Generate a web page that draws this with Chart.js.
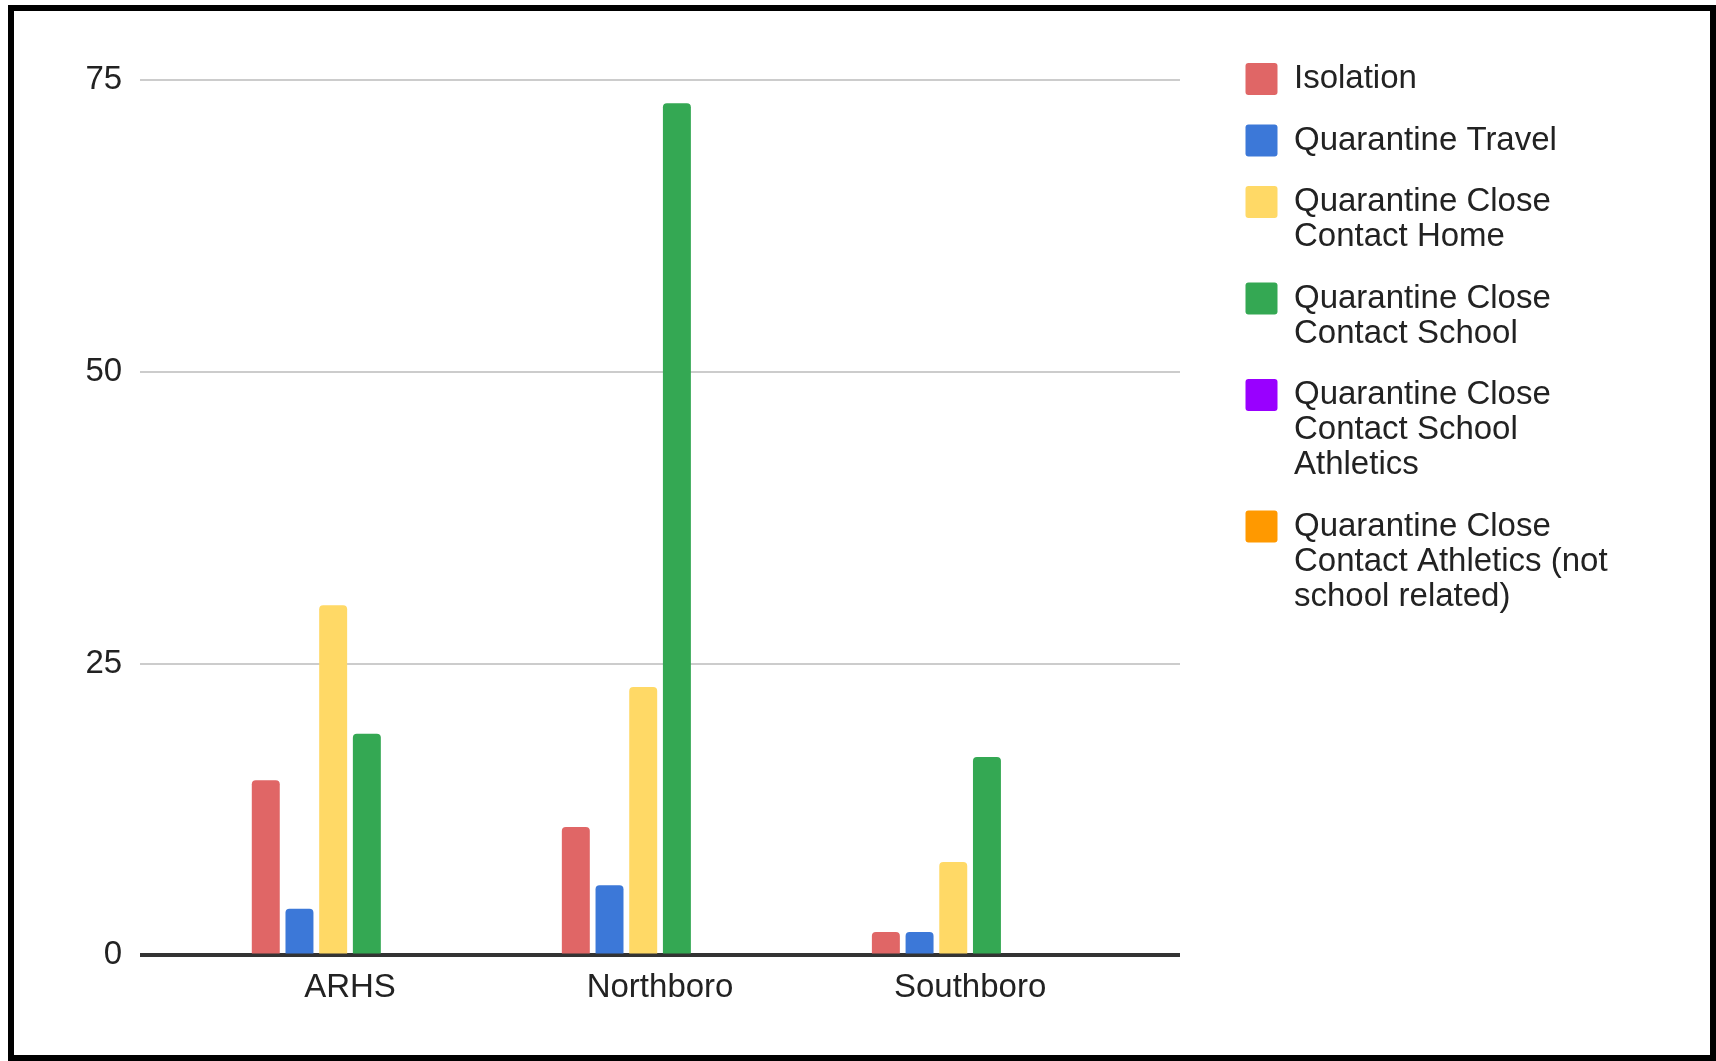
<!DOCTYPE html>
<html>
<head>
<meta charset="utf-8">
<script src="https://cdn.jsdelivr.net/npm/chart.js@4.4.1/dist/chart.umd.min.js"></script>
<style>
  body { margin: 0; background: #fff; }
  #wrap { position: relative; width: 1716px; height: 1061px; }
  #myChart { position: absolute; left: 0; top: 0; }
  #frame {
    position: absolute; left: 8px; top: 5px; width: 1708px; height: 1056px;
    box-sizing: border-box; border: 6px solid #000; pointer-events: none;
  }
</style>
</head>
<body>
<div id="wrap">
  <canvas id="myChart" width="1716" height="1061"></canvas>
  <div id="frame"></div>
</div>
<script>
var schools = ['ARHS', 'Northboro', 'Southboro'];
var isolation = [15, 11, 2];
var quarantineTravel = [4, 6, 2];
var closeContactHome = [30, 23, 8];
var closeContactSchool = [19, 73, 17];
var closeContactSchoolAthletics = [0, 0, 0];
var closeContactAthletics = [0, 0, 0];
var yTicks = [0, 25, 50, 75];

Chart.defaults.font.family = "'Liberation Sans', Arial, sans-serif";
Chart.defaults.color = '#222';

function points(values) {
    return values.map(function (v, i) {
        return { x: i, y: v };
    });
}

function series(label, values, colour) {
    return {
        label: label,
        data: points(values),
        backgroundColor: colour,
        borderWidth: 0,
        borderRadius: { topLeft: 4, topRight: 4 },
        borderSkipped: 'start',
        categoryPercentage: 0.652,
        barPercentage: 0.83
    };
}

// move the legend to the spot it has in the original, and give its text room
const legendSpot = {
    id: 'legendSpot',
    afterLayout(chart) {
        const lg = chart.legend;
        const dx = 1219 - lg.left;
        const dy = 36 - lg.top;
        lg.left += dx; lg.right += dx + 80;
        lg.top += dy; lg.bottom += dy;
    }
};

const ctx = document.getElementById('myChart');

var c = new Chart(ctx, {
    type: 'bar',
    data: {
        datasets: [
            series(['Isolation'], isolation, '#e06666'),
            series(['Quarantine Travel'], quarantineTravel, '#3c78d8'),
            series(['Quarantine Close', 'Contact Home'], closeContactHome, '#ffd966'),
            series(['Quarantine Close', 'Contact School'], closeContactSchool, '#34a853'),
            series(['Quarantine Close', 'Contact School', 'Athletics'], closeContactSchoolAthletics, '#9900ff'),
            series(['Quarantine Close', 'Contact Athletics (not', 'school related)'], closeContactAthletics, '#ff9900')
        ]
    },
    options: {
        responsive: false,
        animation: false,
        layout: {
            padding: { top: 80, left: 67.4, right: 156, bottom: 40 }
        },
        scales: {
            x: {
                type: 'linear',
                min: -0.677,
                max: schools.length - 1 + 0.677,
                offset: false,
                grid: { display: false, drawTicks: false, offset: false },
                border: { display: false },
                afterBuildTicks: function (scale) {
                    scale.ticks = schools.map(function (s, i) { return { value: i }; });
                },
                ticks: {
                    padding: 13,
                    color: '#222',
                    font: { size: 33 },
                    callback: function (value) { return schools[value]; }
                }
            },
            y: {
                min: 0,
                max: 75,
                afterBuildTicks: function (scale) {
                    scale.ticks = yTicks.map(function (v) { return { value: v }; });
                },
                grid: {
                    drawTicks: false,
                    color: function (c) { return c.tick && c.tick.value === 0 ? '#333' : '#cccccc'; },
                    lineWidth: function (c) { return c.tick && c.tick.value === 0 ? 4 : 2; }
                },
                border: { display: false },
                ticks: {
                    padding: 18,
                    color: '#222',
                    font: { size: 33 }
                }
            }
        },
        plugins: {
            tooltip: { enabled: false },
            legend: {
                position: 'right',
                align: 'start',
                maxWidth: 380,
                labels: {
                    boxWidth: 32,
                    boxHeight: 32,
                    padding: 26.5,
                    color: '#222',
                    useBorderRadius: true,
                    borderRadius: 3,
                    font: { size: 33, lineHeight: 35 / 33 }
                }
            }
        }
    },
    plugins: [legendSpot]
});
</script>
</body>
</html>
